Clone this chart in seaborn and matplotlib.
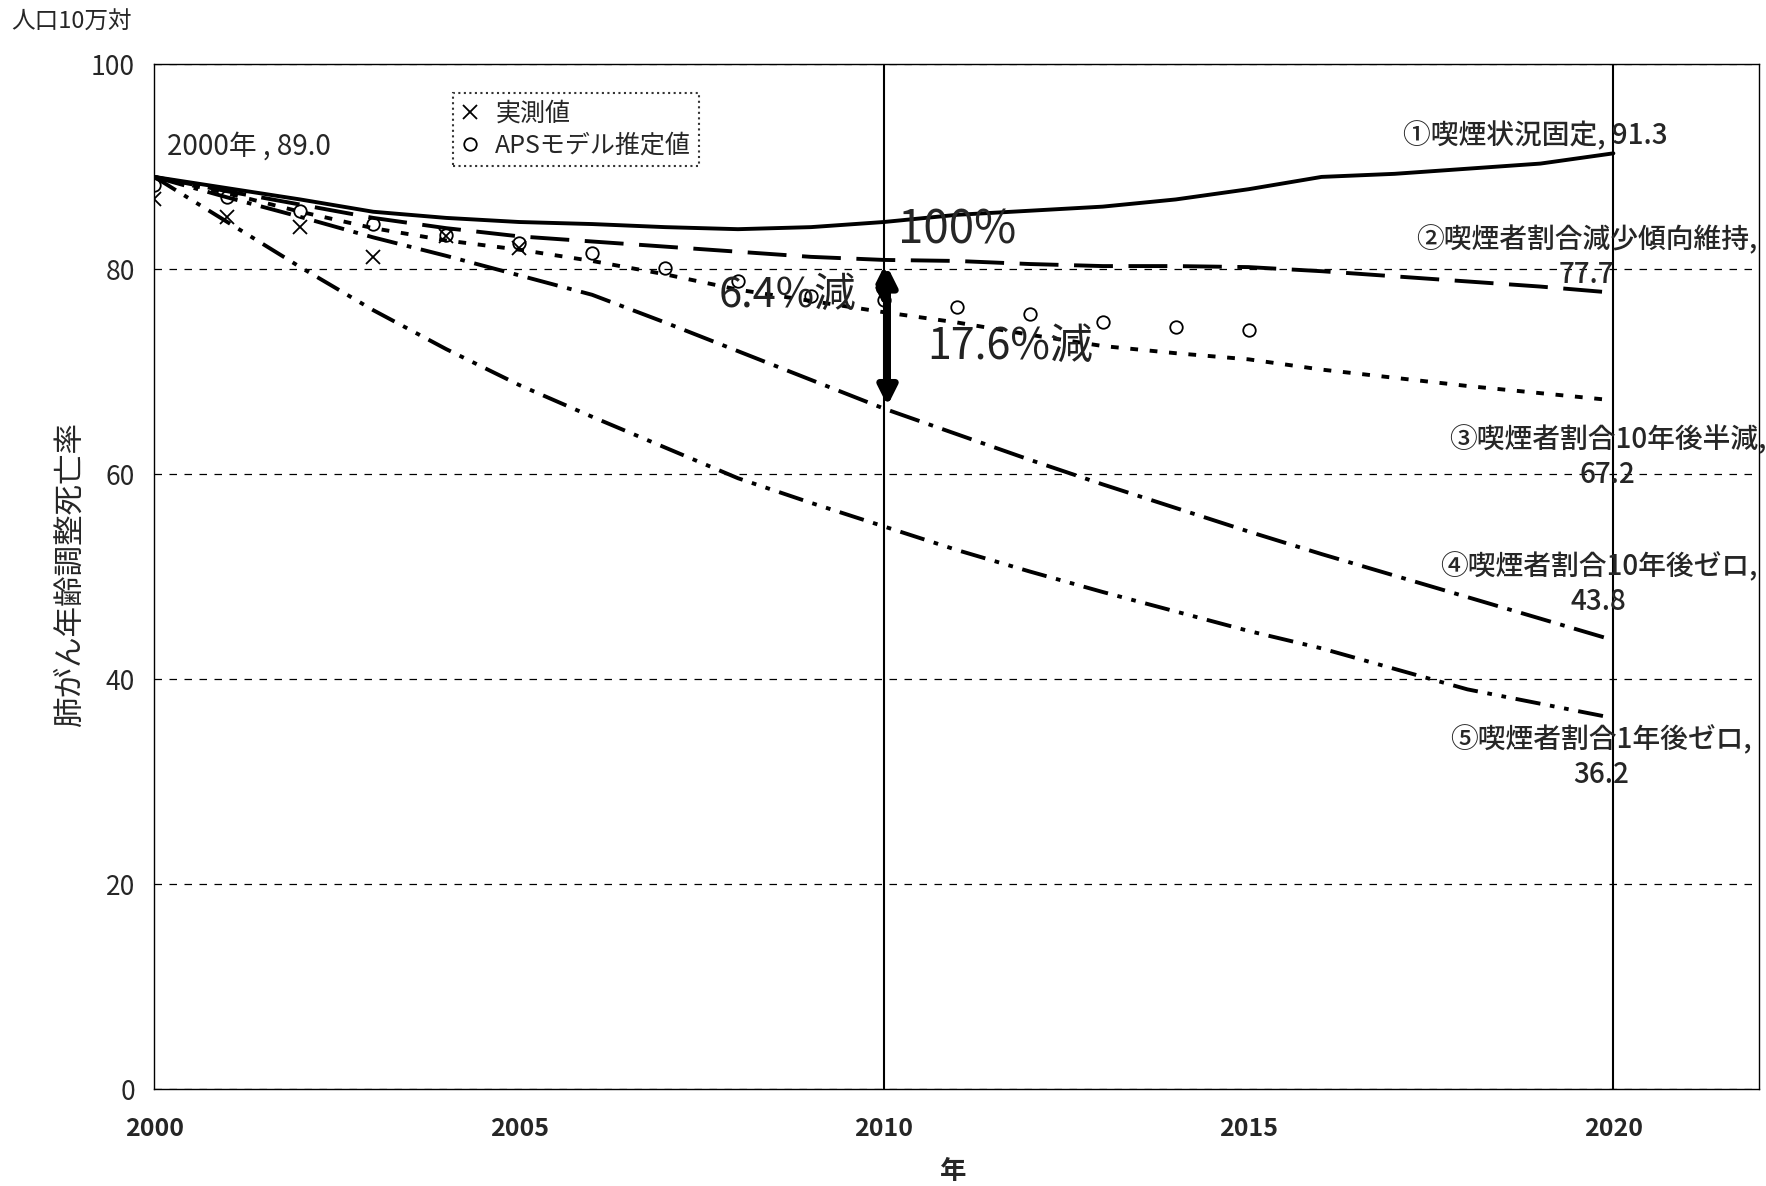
import numpy as np
import pandas as pd
import seaborn as sns
import matplotlib
matplotlib.use("Agg")
import matplotlib.pyplot as plt

# 年
years = list(range(2000, 2021))

# ①〜⑤ シナリオ別の推計値
s1 = [89.0, 87.9, 86.8, 85.6, 85.0, 84.6, 84.4, 84.1, 83.9, 84.1, 84.6,
      85.3, 85.7, 86.1, 86.8, 87.8, 89.0, 89.3, 89.8, 90.3, 91.3]
s2 = [89.0, 87.6, 86.3, 85.0, 84.0, 83.2, 82.7, 82.2, 81.7, 81.2, 80.9,
      80.8, 80.5, 80.3, 80.3, 80.2, 79.8, 79.3, 78.8, 78.3, 77.7]
s3 = [89.0, 87.4, 85.6, 84.0, 82.8, 81.9, 80.8, 79.5, 78.0, 76.9, 75.8,
      74.8, 73.6, 72.5, 71.8, 71.2, 70.2, 69.4, 68.6, 67.9, 67.2]
s4 = [89.0, 87.0, 85.1, 83.1, 81.3, 79.4, 77.5, 74.8, 72.0, 69.2, 66.4,
      63.9, 61.4, 59.0, 56.7, 54.4, 52.2, 50.1, 48.0, 45.9, 43.8]
s5 = [89.0, 84.6, 80.2, 76.0, 72.2, 68.7, 65.6, 62.6, 59.6, 57.2, 54.9,
      52.6, 50.5, 48.5, 46.6, 44.7, 43.0, 41.0, 39.0, 37.6, 36.2]

# 実測値 と APSモデル推定値
obs_years = [2000, 2001, 2002, 2003, 2004, 2005]
obs_vals = [86.8, 85.1, 84.1, 81.2, 83.2, 82.1]
aps_years = list(range(2000, 2016))
aps_vals = [88.2, 87.0, 85.7, 84.4, 83.3, 82.6, 81.6, 80.1, 78.8, 77.4, 77.0,
            76.3, 75.6, 74.8, 74.4, 74.1]

scenario_labels = ["①喫煙状況固定, 91.3",
                   "②喫煙者割合減少傾向維持,\n77.7",
                   "③喫煙者割合10年後半減,\n67.2",
                   "④喫煙者割合10年後ゼロ,\n43.8",
                   "⑤喫煙者割合1年後ゼロ,\n36.2"]
legend_labels = ["実測値", "APSモデル推定値"]

sns.set_theme(style="white")
plt.rcParams['font.family'] = ['Noto Sans CJK JP', 'DejaVu Sans']

fig = plt.figure(figsize=(17.66, 11.86), dpi=100)
ax = fig.add_axes([0.0874, 0.0817, 0.9088, 0.8642])

# 各シナリオの線
styles = ['-', (0, (10, 4)), (0, (2, 3)), (0, (8, 2.5, 1.2, 2.5)),
          (0, (6.5, 2.5, 1.2, 2.5, 1.2, 2.5))]
for vals, ls in zip([s1, s2, s3, s4, s5], styles):
    sns.lineplot(x=years, y=vals, ax=ax, color='black', lw=2.8)
    ax.get_lines()[-1].set_linestyle(ls)

# マーカー
h1, = ax.plot(obs_years, obs_vals, 'x', color='black', ms=10, mew=1.3, label=legend_labels[0])
h2, = ax.plot(aps_years, aps_vals, 'o', mfc='none', mec='black', ms=9, mew=1.3, label=legend_labels[1])

ax.set_xlim(2000, 2022)
ax.set_ylim(0, 100)
ax.set_xticks([2000, 2005, 2010, 2015, 2020])
ax.set_yticks([0, 20, 40, 60, 80, 100])
ax.yaxis.grid(True, linestyle=(0, (6, 6)), linewidth=0.9, color='black')
ax.xaxis.grid(False)
ax.set_axisbelow(True)
for sp in ax.spines.values():
    sp.set_color('black')
    sp.set_linewidth(1.0)
ax.tick_params(axis='x', direction='in', length=8, pad=20, labelsize=18)
ax.tick_params(axis='y', direction='in', length=0, pad=14, labelsize=19)
for t in ax.get_xticklabels():
    t.set_fontweight('bold')
ax.set_xlabel('')
ax.set_ylabel('')

# 2010年・2020年の縦線
ax.axvline(2010, color='black', lw=1.5)
ax.axvline(2020, color='black', lw=1.5)

# 矢印
ax.annotate('', xy=(2010.05, 66.4), xytext=(2010.05, 80.5),
            arrowprops=dict(arrowstyle='<|-|>', lw=5, color='black', mutation_scale=28))
ax.annotate('', xy=(2010.0, 76.2), xytext=(2010.0, 80.5),
            arrowprops=dict(arrowstyle='<|-|>', lw=3.5, color='black', mutation_scale=22))

# 注記
ax.text(2000.17, 92.0, "2000年 , 89.0", fontsize=20, va='center', ha='left')
ax.text(2010.2, 83.8, "100%", fontsize=33, va='center', ha='left')
ax.text(2009.62, 77.4, "6.4%減", fontsize=30, va='center', ha='right', color='#222222')
ax.text(2010.6, 72.4, "17.6%減", fontsize=31, va='center', ha='left', color='#222222')

label_pos = [(2018.93, 93.0), (2019.63, 81.2), (2019.92, 61.7), (2019.8, 49.3), (2019.83, 32.4)]
for txt, (x, y) in zip(scenario_labels, label_pos):
    ax.text(x, y, txt, fontsize=20, ha='center', va='center', multialignment='center',
            linespacing=1.25, clip_on=False, fontweight='medium')

leg = ax.legend(handles=[h1, h2], loc='upper left', bbox_to_anchor=(0.186, 0.972),
                fontsize=18, frameon=True, fancybox=False, handlelength=0.8,
                handletextpad=0.6, borderpad=0.3, labelspacing=0.25, borderaxespad=0)
leg.get_frame().set_edgecolor('black')
leg.get_frame().set_linestyle(':')
leg.get_frame().set_linewidth(1.5)

fig.text(0.0064, 0.981, "人口10万対", fontsize=17, ha='left', va='center')
fig.text(0.0395, 0.516, "肺がん年齢調整死亡率", fontsize=22, rotation=90, ha='center', va='center')
fig.text(0.54, 0.0123, "年", fontsize=19, ha='center', va='center', fontweight='bold')

fig.savefig("out.png", dpi=100)
